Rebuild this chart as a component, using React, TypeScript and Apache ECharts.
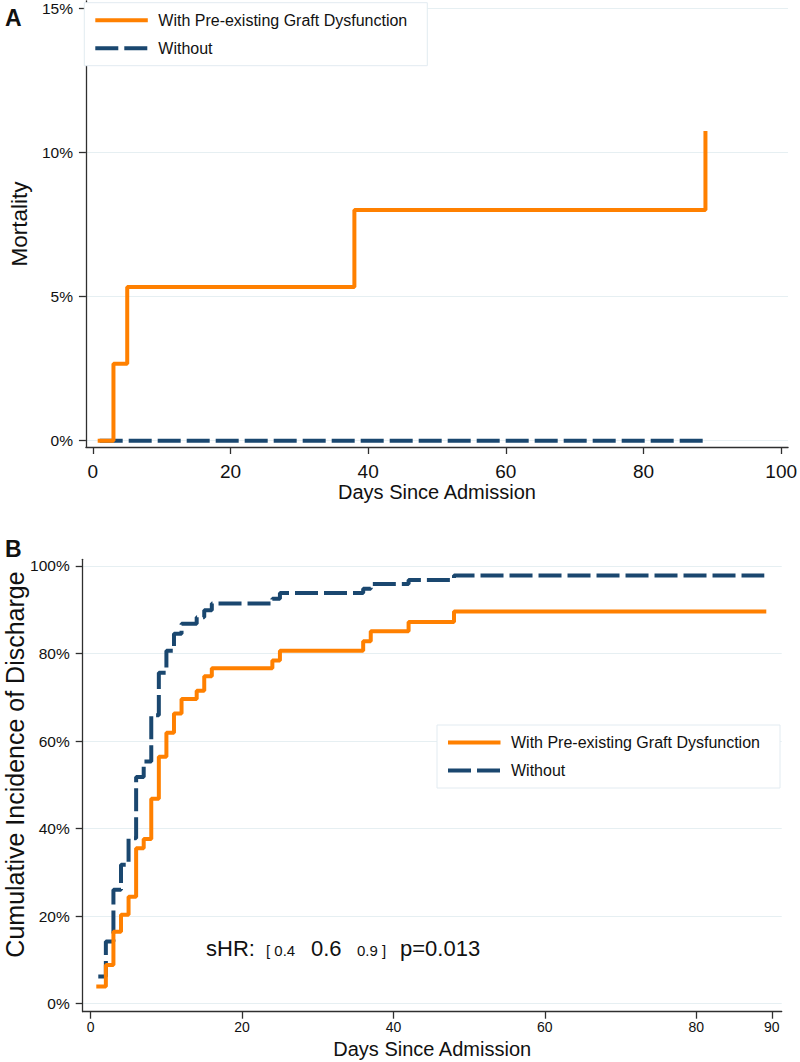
import React, { useEffect, useRef } from 'react';
import * as echarts from 'echarts';

// ---------- Data ----------
const mortalityDaysWith = [1, 3, 5, 38, 89];
const mortalityWith = [0, 2.67, 5.33, 8.0, 10.67];
const mortalityDaysWithout = [1, 89];
const mortalityWithout = [0, 0];

const dischargeDaysWith = [1, 2, 3, 4, 5, 6, 7, 8, 9, 10, 11, 12, 14, 15, 16, 24, 25, 36, 37, 42, 48, 89];
const dischargeWith = [3.9, 8.8, 16.4, 20.3, 24.4, 35.5, 37.6, 46.8, 56.4, 61.9, 66.3, 69.6, 71.5, 74.8, 76.6, 78.4, 80.6, 82.8, 85.1, 87.2, 89.6, 89.6];
const dischargeDaysWithout = [1, 2, 3, 4, 5, 6, 7, 8, 9, 10, 11, 12, 14, 15, 16, 24, 25, 36, 37, 42, 48, 89];
const dischargeWithout = [6.2, 14.2, 26.0, 31.7, 37.8, 51.8, 55.3, 65.9, 75.6, 80.6, 84.5, 86.8, 88.3, 89.9, 91.4, 92.5, 93.8, 94.8, 95.9, 96.8, 97.8, 97.8];

const mortalityXTicks = [0, 20, 40, 60, 80, 100];
const mortalityYTicks = [0, 5, 10, 15];
const dischargeXTicks = [0, 20, 40, 60, 80, 90];
const dischargeYTicks = [0, 20, 40, 60, 80, 100];

const seriesNames = ['With Pre-existing Graft Dysfunction', 'Without'];
const xTitle = 'Days Since Admission';
const mortalityTitle = 'Mortality';
const dischargeTitle = 'Cumulative Incidence of Discharge';
const annotation = { label: 'sHR:', lower: '0.4', estimate: '0.6', upper: '0.9', p: 'p=0.013' };

// ---------- Styles ----------
const FONT = '"Liberation Sans", Arial, Helvetica, sans-serif';
const ORANGE = '#ff8000';
const NAVY = '#1a476f';
const AXIS = '#2f2f2f';
const GRIDC = '#e6eff2';
const TEXT = '#111111';
const DASH = [23, 6];

const zip = (xs: number[], ys: number[]) => xs.map((x, i) => [x, ys[i]]);

function xAxis(gridIndex: number, min: number, max: number, ticks: number[], labelSize: number, margin: number, nameGap: number) {
  return {
    type: 'value', gridIndex, min, max,
    name: xTitle, nameLocation: 'middle', nameGap,
    nameTextStyle: { fontFamily: FONT, fontSize: 20, color: TEXT },
    axisLine: { show: true, onZero: false, lineStyle: { color: AXIS, width: 1.3 } },
    axisTick: { show: true, length: 7, customValues: ticks, lineStyle: { color: AXIS, width: 1.3 } },
    axisLabel: { customValues: ticks, fontFamily: FONT, fontSize: labelSize, color: TEXT, margin, hideOverlap: false },
    splitLine: { show: false },
  };
}

function yAxis(gridIndex: number, min: number, max: number, ticks: number[], extra: any = {}) {
  return {
    type: 'value', gridIndex, min, max,
    axisLine: { show: true, onZero: false, lineStyle: { color: AXIS, width: 1.3 } },
    axisTick: { show: true, length: 7, customValues: ticks, lineStyle: { color: AXIS, width: 1.3 } },
    axisLabel: { customValues: ticks, formatter: '{value}%', fontFamily: FONT, fontSize: 15.5, color: TEXT, margin: 13, hideOverlap: false },
    splitLine: { show: true, lineStyle: { color: GRIDC, width: 1.2 } },
    ...extra,
  };
}

function legendBox(left: number, top: number) {
  return [
    { type: 'rect', z: 100, shape: { x: left, y: top, width: 343, height: 63 }, style: { fill: '#ffffff', stroke: '#e2ebf1', lineWidth: 1 } },
    { type: 'line', z: 101, shape: { x1: left + 11, y1: top + 17.5, x2: left + 63.5, y2: top + 17.5 }, style: { stroke: ORANGE, lineWidth: 4 } },
    { type: 'text', z: 101, x: left + 74, y: top + 17.5, style: { text: seriesNames[0], fontFamily: FONT, fontSize: 16, fill: TEXT, align: 'left', verticalAlign: 'middle' } },
    { type: 'line', z: 101, shape: { x1: left + 11, y1: top + 45.5, x2: left + 63, y2: top + 45.5 }, style: { stroke: NAVY, lineWidth: 4, lineDash: DASH } },
    { type: 'text', z: 101, x: left + 74, y: top + 45.5, style: { text: seriesNames[1], fontFamily: FONT, fontSize: 16, fill: TEXT, align: 'left', verticalAlign: 'middle' } },
  ];
}

function txt(x: number, y: number, text: string, size: number, extra: any = {}) {
  return { type: 'text', z: 50, x, y, style: { text, fontFamily: FONT, fontSize: size, fill: TEXT, align: 'left', verticalAlign: 'middle', ...extra } };
}

export default function App() {
  const ref = useRef<HTMLDivElement>(null);

  useEffect(() => {
    if (!ref.current) return;
    const chart = echarts.init(ref.current, null, { renderer: 'svg' });
    const option: any = {
      animation: false,
      backgroundColor: '#ffffff',
      grid: [
        { left: 84, top: 0, width: 709, height: 447, containLabel: false },
        { left: 82.7, top: 559.3, width: 699, height: 452.4, containLabel: false },
      ],
      xAxis: [
        xAxis(0, -1, 101, mortalityXTicks, 19, 15, 34),
        xAxis(1, -1.06, 91.3, dischargeXTicks, 14, 8, 27),
      ],
      yAxis: [
        yAxis(0, -0.22, 15.25, mortalityYTicks, {
          name: mortalityTitle, nameLocation: 'middle', nameGap: 47, nameRotate: 90,
          nameTextStyle: { fontFamily: FONT, fontSize: 22.5, color: TEXT },
        }),
        yAxis(1, -1.87, 101.53, dischargeYTicks),
      ],
      series: [
        {
          name: seriesNames[1], type: 'line', xAxisIndex: 0, yAxisIndex: 0, step: 'end', showSymbol: false, z: 2,
          data: zip(mortalityDaysWithout, mortalityWithout),
          lineStyle: { color: NAVY, width: 4, type: DASH },
        },
        {
          name: seriesNames[0], type: 'line', xAxisIndex: 0, yAxisIndex: 0, step: 'end', showSymbol: false, z: 3,
          data: zip(mortalityDaysWith, mortalityWith),
          lineStyle: { color: ORANGE, width: 4, cap: 'square' },
        },
        {
          name: seriesNames[1], type: 'line', xAxisIndex: 1, yAxisIndex: 1, step: 'end', showSymbol: false, z: 2,
          data: zip(dischargeDaysWithout, dischargeWithout),
          lineStyle: { color: NAVY, width: 4, type: DASH },
        },
        {
          name: seriesNames[0], type: 'line', xAxisIndex: 1, yAxisIndex: 1, step: 'end', showSymbol: false, z: 3,
          data: zip(dischargeDaysWith, dischargeWith),
          lineStyle: { color: ORANGE, width: 4, cap: 'square' },
        },
      ],
      graphic: [
        ...legendBox(84.3, 2.7),
        ...legendBox(437, 725),
        txt(5, 17.5, 'A', 23, { fontWeight: 'bold' }),
        txt(5, 549, 'B', 23, { fontWeight: 'bold' }),
        { type: 'text', z: 50, x: 15, y: 764.5, rotation: Math.PI / 2,
          style: { text: dischargeTitle, fontFamily: FONT, fontSize: 25, fill: TEXT, align: 'center', verticalAlign: 'middle' } },
        txt(206, 948.5, annotation.label, 22),
        txt(266, 950.5, '[ ' + annotation.lower, 15),
        txt(311, 948.5, annotation.estimate, 22),
        txt(357, 950.5, annotation.upper + ' ]', 15),
        txt(400, 948.5, annotation.p, 22),
      ],
    };
    chart.setOption(option);
    return () => chart.dispose();
  }, []);

  return <div ref={ref} style={{ position: 'absolute', left: 0, top: 0, width: 800, height: 1062 }} />;
}
